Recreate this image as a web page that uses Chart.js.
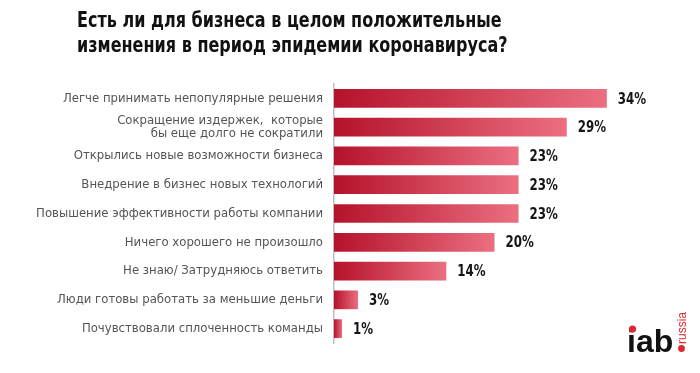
<!DOCTYPE html>
<html>
<head>
<meta charset="utf-8">
<script src="https://cdn.jsdelivr.net/npm/chart.js@4.4.0/dist/chart.umd.min.js"></script>
<style>
  html, body { margin: 0; padding: 0; background: #fff; }
  #wrap { position: relative; width: 700px; height: 373px; }
  #title {
    position: absolute; left: 77px; top: 7px; margin: 0;
    font-family: 'DejaVu Sans Condensed', sans-serif;
    font-weight: bold; font-size: 22px; line-height: 25px; color: #111;
    white-space: nowrap;
    transform: scaleX(0.81); transform-origin: 0 0;
  }
</style>
</head>
<body>
<div id="wrap">
  <h1 id="title">Есть ли для бизнеса в целом положительные<br>изменения в период эпидемии коронавируса?</h1>
  <canvas id="myChart" width="700" height="373"></canvas>
</div>
<script>
var narrow = "'DejaVu Sans Condensed', sans-serif";

var categorias = [
  'Легче принимать непопулярные решения',
  ['Сокращение издержек,  которые', 'бы еще долго не сократили'],
  'Открылись новые возможности бизнеса',
  'Внедрение в бизнес новых технологий',
  'Повышение эффективности работы компании',
  'Ничего хорошего не произошло',
  'Не знаю/ Затрудняюсь ответить',
  'Люди готовы работать за меньшие деньги',
  'Почувствовали сплоченность команды'
];
var valores = [34, 29, 23, 23, 23, 20, 14, 3, 1];

// gradiente para cada barra, de rojo oscuro a rosado
function degradado(context) {
  var chart = context.chart;
  if (!chart.chartArea) return '#c0203a';
  var x = chart.scales.x;
  var x0 = x.getPixelForValue(0);
  var x1 = x.getPixelForValue(context.raw || 1);
  if (x1 - x0 < 1) x1 = x0 + 1;
  var g = chart.ctx.createLinearGradient(x0, 0, x1, 0);
  g.addColorStop(0, '#b5122b');
  g.addColorStop(1, '#eb6f80');
  return g;
}

// etiquetas de porcentaje al final de cada barra
var etiquetas = {
  id: 'etiquetas',
  afterDatasetsDraw: function (chart) {
    var ctx = chart.ctx;
    var meta = chart.getDatasetMeta(0);
    meta.data.forEach(function (bar, i) {
      ctx.save();
      ctx.translate(bar.x + 11, bar.y + 1);
      ctx.scale(0.82, 1);
      ctx.font = 'bold 16px ' + narrow;
      ctx.fillStyle = '#151515';
      ctx.textAlign = 'left';
      ctx.textBaseline = 'middle';
      ctx.fillText(valores[i] + '%', 0, 0);
      ctx.restore();
    });
  }
};

// logo iab.russia
var logo = {
  id: 'logo',
  afterDraw: function (chart) {
    var ctx = chart.ctx;
    ctx.save();
    ctx.fillStyle = '#111';
    ctx.font = 'bold 32px "Liberation Sans", Arial, sans-serif';
    ctx.textBaseline = 'alphabetic';
    ctx.fillText('iab', 627, 352);
    ctx.fillStyle = '#fff';
    ctx.fillRect(626, 320, 12, 10);
    ctx.fillStyle = '#e0262e';
    ctx.beginPath();
    ctx.arc(632.5, 329, 3.6, 0, Math.PI * 2);
    ctx.fill();
    ctx.beginPath();
    ctx.arc(681.5, 348.5, 3.4, 0, Math.PI * 2);
    ctx.fill();
    ctx.translate(686, 344);
    ctx.rotate(-Math.PI / 2);
    ctx.font = '12px "Liberation Sans", Arial, sans-serif';
    ctx.fillText('russia', 0, 0);
    ctx.restore();
  }
};

var ctx = document.getElementById('myChart').getContext('2d');
var myChart = new Chart(ctx, {
  type: 'bar',
  data: {
    labels: categorias,
    datasets: [{
      data: valores,
      backgroundColor: degradado,
      borderWidth: 0,
      categoryPercentage: 1,
      barPercentage: 0.65
    }]
  },
  options: {
    indexAxis: 'y',
    responsive: false,
    animation: false,
    layout: { padding: { top: 84, bottom: 30, left: 0, right: 45 } },
    plugins: {
      legend: { display: false },
      tooltip: { enabled: false }
    },
    scales: {
      x: { display: false, min: 0, max: 40 },
      y: {
        afterFit: function (s) { s.width = 334; },
        grid: { display: false, drawTicks: false },
        border: { display: true, color: '#bdbdbd', width: 1.5 },
        ticks: {
          autoSkip: false,
          padding: 11,
          color: '#555',
          font: { family: narrow, size: 13, lineHeight: 1.05 }
        }
      }
    }
  },
  plugins: [etiquetas, logo]
});
</script>
</body>
</html>
